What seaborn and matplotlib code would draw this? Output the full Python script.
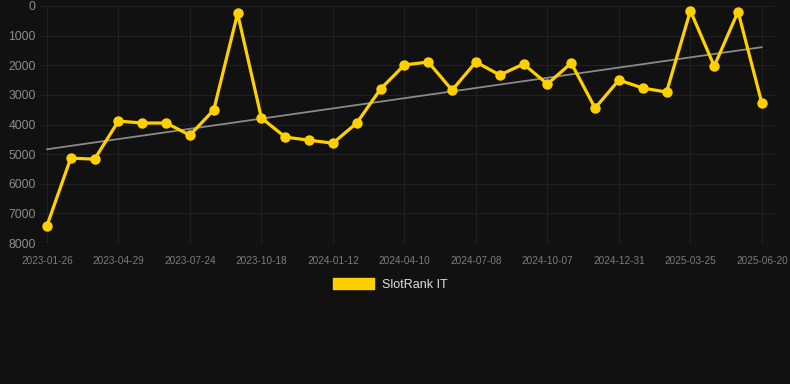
import numpy as np
import pandas as pd
import seaborn as sns
import matplotlib.pyplot as plt

DATES = ['2023-01-26', '2023-02-28', '2023-03-29', '2023-04-29', '2023-05-27',
         '2023-06-25', '2023-07-24', '2023-08-22', '2023-09-19', '2023-10-18',
         '2023-11-16', '2023-12-14', '2024-01-12', '2024-02-11', '2024-03-12',
         '2024-04-10', '2024-05-10', '2024-06-08', '2024-07-08', '2024-08-07',
         '2024-09-06', '2024-10-07', '2024-11-04', '2024-12-03', '2024-12-31',
         '2025-01-28', '2025-02-25', '2025-03-25', '2025-04-23', '2025-05-22',
         '2025-06-20']
RANKS = [7420, 5135, 5170, 3885, 3950, 3950, 4360, 3510, 250, 3780,
         4425, 4530, 4630, 3950, 2800, 1990, 1890, 2840, 1890, 2330,
         1960, 2635, 1925, 3445, 2500, 2770, 2905, 160, 2030, 190,
         3285]
SERIES = 'SlotRank IT'

BG = '#111111'
GOLD = '#ffd000'

sns.set_theme(style='dark')
plt.rcParams['font.family'] = ['Liberation Sans', 'DejaVu Sans']

df = pd.DataFrame({'idx': range(len(DATES)), 'date': DATES, 'rank': RANKS})

fig = plt.figure(figsize=(7.9, 3.84), dpi=100, facecolor=BG)
ax = fig.add_axes([40 / 790, (384 - 243) / 384, 735 / 790, 237 / 384])
ax.set_facecolor(BG)

# linia trendu (regresja liniowa)
coef = np.polyfit(df['idx'], df['rank'], 1)
trend = np.polyval(coef, df['idx'])
ax.plot(df['idx'], trend, color='#8a8a8a', lw=1.3, zorder=2)

sns.lineplot(data=df, x='idx', y='rank', color=GOLD, lw=2.3, marker='o',
             markersize=7.5, markeredgewidth=0, label=SERIES, ax=ax, zorder=3,
             legend=False)

ax.set_xlim(-0.29, 30.55)
ax.set_ylim(8000, 0)
ax.set_yticks(range(0, 8001, 1000))
ax.set_xticks(range(0, len(DATES), 3))
ax.set_xticklabels(DATES[::3])
ax.tick_params(axis='y', labelsize=8.7, colors='#8c8c8c', pad=3, length=0)
ax.tick_params(axis='x', labelsize=7.2, colors='#7c7c7c', pad=9, length=0)
ax.set_xlabel('')
ax.set_ylabel('')
ax.grid(True, color='#202020', lw=0.8)
for s in ax.spines.values():
    s.set_visible(False)
ax.axhline(8000, color='#2e2e2e', lw=1, zorder=1)

handle = plt.Rectangle((0, 0), 1, 1, color=GOLD)
leg = fig.legend([handle], [SERIES], loc='center', bbox_to_anchor=(0.494, 0.26),
                 frameon=False, fontsize=9, handlelength=3.3, handleheight=1.0,
                 handletextpad=0.6, labelcolor='#dddddd')

fig.savefig('out.png', dpi=100, facecolor=BG)
